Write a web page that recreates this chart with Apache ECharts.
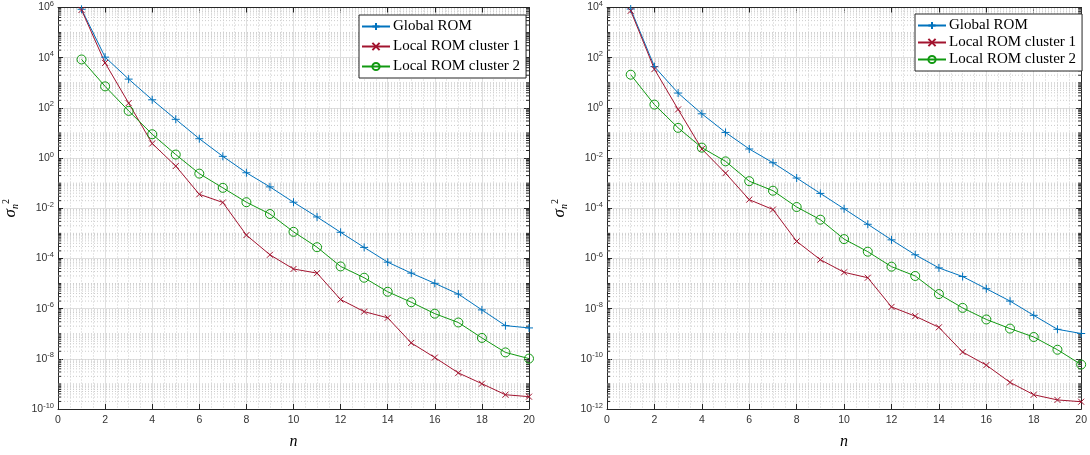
<!DOCTYPE html>
<html><head><meta charset="utf-8">
<script src="https://cdn.jsdelivr.net/npm/echarts@6/dist/echarts.min.js"></script>
<style>html,body{margin:0;padding:0;background:#fff}#c{width:1090px;height:455px}</style>
</head><body><div id="c"></div>
<script>
// ---- data ----
var nValues = [1,2,3,4,5,6,7,8,9,10,11,12,13,14,15,16,17,18,19,20];
var seriesNames = ['Global ROM', 'Local ROM cluster 1', 'Local ROM cluster 2'];
// left panel
var leftGlobal = [8.5e5,1.05e4,1.4e3,2.1e2,35,5.9,1.17,0.26,0.071,0.0174,4.5e-3,1.1e-3,2.75e-4,7.1e-5,2.6e-5,1.02e-5,3.8e-6,8.9e-7,2.1e-7,1.7e-7];
var leftLocal1 = [8.0e5,6.2e3,155,3.8,0.48,0.036,0.017,8.5e-4,1.4e-4,3.8e-5,2.6e-5,2.3e-6,7.6e-7,4.3e-7,4.3e-8,1.12e-8,2.75e-9,1.02e-9,3.7e-10,3.1e-10];
var leftLocal2 = [8.5e3,720,76,8.9,1.38,0.24,0.065,0.0174,5.9e-3,1.15e-3,2.8e-4,4.8e-5,1.7e-5,4.7e-6,1.8e-6,6.3e-7,2.8e-7,6.8e-8,1.8e-8,1.02e-8];
// right panel
var rightGlobal = [8.7e3,44,3.9,0.58,0.105,0.023,6.5e-3,1.6e-3,3.9e-4,9.5e-5,2.3e-5,5.5e-6,1.4e-6,4.2e-7,1.9e-7,6.2e-8,2.0e-8,5.4e-9,1.5e-9,1.02e-9];
var rightLocal1 = [7.4e3,35,0.87,0.023,2.5e-3,2.2e-4,8.9e-5,4.8e-6,8.9e-7,2.8e-7,1.7e-7,1.17e-8,5.0e-9,1.8e-9,1.86e-10,5.6e-11,1.15e-11,3.7e-12,2.3e-12,1.95e-12];
var rightLocal2 = [21,1.35,0.16,0.026,7.4e-3,1.2e-3,5.0e-4,1.12e-4,3.5e-5,5.9e-6,1.86e-6,4.7e-7,2.0e-7,3.8e-8,1.07e-8,3.7e-9,1.6e-9,7.4e-10,2.3e-10,5.9e-11];
// axis ranges / ticks
var xMin = 0, xMax = 20, xInterval = 2;
var leftYMin = 1e-10, leftYMax = 1e6;
var rightYMin = 1e-12, rightYMax = 1e4;
var minorMultipliers = [1,2,3,4,5,6,7,8,9];

// ---- styles ----
var colors = ['#0072BD', '#A2142F', '#119911'];
var symbols = ['path://M5,0L5,10M0,5L10,5', 'path://M0,0L10,10M10,0L0,10', 'circle'];
var symbolSizes = [8, 6, 9];
var symbolFill = [null, null, 'rgba(255,255,255,0)'];
var axisColor = '#262626';
var gridColor = '#dfdfdf';
var minorColor = '#cccccc';

function minorValues(lo, hi) {
  var out = [];
  var e0 = Math.round(Math.log10(lo)), e1 = Math.round(Math.log10(hi));
  for (var e = e0; e < e1; e++) {
    minorMultipliers.forEach(function (m) {
      if (m === 1 && (e % 2 === 0)) return; // even decades are major
      out.push([xMin, m * Math.pow(10, e)]);
    });
  }
  return out;
}

function yLabel(v) {
  var e = Math.round(Math.log10(v));
  return '{b|10}{s|' + e + '}';
}

var labelRich = {
  b: {fontSize: 10.5, color: '#333', fontFamily: 'Liberation Sans'},
  s: {fontSize: 7.5, color: '#333', fontFamily: 'Liberation Sans', padding: [0, 0, 7, 0]}
};

function xAxisPair(gridIndex) {
  return [{
    type: 'value', gridIndex: gridIndex, min: xMin, max: xMax, interval: xInterval, position: 'bottom',
    name: 'n', nameLocation: 'middle', nameGap: 25,
    nameTextStyle: {fontFamily: 'Liberation Serif', fontStyle: 'italic', fontSize: 16, color: '#000'},
    axisLine: {show: true, onZero: false, lineStyle: {color: axisColor, width: 1}},
    axisTick: {show: true, inside: true, length: 5, lineStyle: {color: axisColor}},
    axisLabel: {margin: 6, fontSize: 10.5, color: '#333', fontFamily: 'Liberation Sans'},
    splitLine: {show: true, lineStyle: {color: gridColor, width: 1}},
    minorTick: {show: false, splitNumber: 4},
    minorSplitLine: {show: true, lineStyle: {color: minorColor, width: 1, type: [1, 2]}}
  }, {
    type: 'value', gridIndex: gridIndex, min: xMin, max: xMax, interval: xInterval, position: 'top',
    axisLine: {show: true, onZero: false, lineStyle: {color: axisColor, width: 1}},
    axisTick: {show: true, inside: true, length: 5, lineStyle: {color: axisColor}},
    axisLabel: {show: false}, splitLine: {show: false}
  }];
}

function yAxisPair(gridIndex, lo, hi) {
  return [{
    type: 'log', logBase: 10, gridIndex: gridIndex, min: lo, max: hi, interval: 2, position: 'left',
    name: '{s|σ}{sub|n}{sup|2}', nameLocation: 'middle', nameGap: 37, nameRotate: 90,
    nameTextStyle: {rich: {
      s: {fontFamily: 'Liberation Serif', fontStyle: 'italic', fontSize: 17, color: '#000'},
      sub: {fontFamily: 'Liberation Serif', fontStyle: 'italic', fontSize: 10, color: '#000', padding: [8, 0, 0, 0]},
      sup: {fontFamily: 'Liberation Serif', fontSize: 10, color: '#000', padding: [0, 0, 10, 0]}
    }},
    axisLine: {show: true, onZero: false, lineStyle: {color: axisColor, width: 1}},
    axisTick: {show: true, inside: true, length: 5, lineStyle: {color: axisColor}},
    axisLabel: {margin: 4, formatter: yLabel, rich: labelRich},
    splitLine: {show: true, lineStyle: {color: gridColor, width: 1}},
    minorTick: {show: false}, minorSplitLine: {show: false}
  }, {
    type: 'log', logBase: 10, gridIndex: gridIndex, min: lo, max: hi, interval: 2, position: 'right',
    axisLine: {show: true, onZero: false, lineStyle: {color: axisColor, width: 1}},
    axisTick: {show: true, inside: true, length: 5, lineStyle: {color: axisColor}},
    axisLabel: {show: false}, splitLine: {show: false}
  }];
}

function minorSeries(xIdx, yIdx, lo, hi) {
  return {
    type: 'custom', xAxisIndex: xIdx, yAxisIndex: yIdx, silent: true, z: 1,
    data: minorValues(lo, hi), encode: {x: 0, y: 1},
    renderItem: function (params, api) {
      var y = api.value(1);
      var p0 = api.coord([xMin, y]), p1 = api.coord([xMax, y]);
      return {type: 'group', children: [
        {type: 'line', shape: {x1: p0[0], y1: p0[1], x2: p1[0], y2: p1[1]}, style: {stroke: minorColor, lineWidth: 1, lineDash: [1, 2]}},
        {type: 'line', shape: {x1: p0[0], y1: p0[1], x2: p0[0] + 3, y2: p0[1]}, style: {stroke: axisColor, lineWidth: 1}},
        {type: 'line', shape: {x1: p1[0] - 3, y1: p1[1], x2: p1[0], y2: p1[1]}, style: {stroke: axisColor, lineWidth: 1}}
      ]};
    }
  };
}

function lineSeries(i, xIdx, yIdx, vals) {
  return {
    type: 'line', name: seriesNames[i], xAxisIndex: xIdx, yAxisIndex: yIdx, z: 3,
    data: nValues.map(function (n, k) { return [n, vals[k]]; }),
    symbol: symbols[i], symbolSize: symbolSizes[i], showAllSymbol: true,
    lineStyle: {color: colors[i], width: 1},
    itemStyle: {color: symbolFill[i] || colors[i], borderColor: colors[i], borderWidth: 1},
    emphasis: {disabled: true}, animation: false
  };
}

function legendAt(left, top, gap, ih) {
  return {
    data: seriesNames, orient: 'vertical', left: left, top: top,
    itemWidth: 28, itemHeight: ih, itemGap: gap,
    padding: [4, 6, 4, 2], backgroundColor: '#fff', borderColor: axisColor, borderWidth: 1,
    textStyle: {fontFamily: 'Liberation Serif', fontSize: 15, color: '#000', padding: [0, 0, 0, -2]},
    selectedMode: false
  };
}

var chart = echarts.init(document.getElementById('c'), null, {renderer: 'canvas'});
chart.setOption({
  animation: false,
  backgroundColor: '#fff',
  grid: [
    {left: 52, top: 7.5, width: 477, height: 411.5},
    {left: 607, top: 7, width: 477, height: 417}
  ],
  legend: [legendAt(359, 15, 5, 9), legendAt(915, 14, 2, 9)],
  xAxis: xAxisPair(0).concat(xAxisPair(1)),
  yAxis: yAxisPair(0, leftYMin, leftYMax).concat(yAxisPair(1, rightYMin, rightYMax)),
  series: [
    minorSeries(0, 0, leftYMin, leftYMax),
    minorSeries(2, 2, rightYMin, rightYMax),
    lineSeries(0, 0, 0, leftGlobal),
    lineSeries(1, 0, 0, leftLocal1),
    lineSeries(2, 0, 0, leftLocal2),
    lineSeries(0, 2, 2, rightGlobal),
    lineSeries(1, 2, 2, rightLocal1),
    lineSeries(2, 2, 2, rightLocal2)
  ]
});
</script></body></html>
